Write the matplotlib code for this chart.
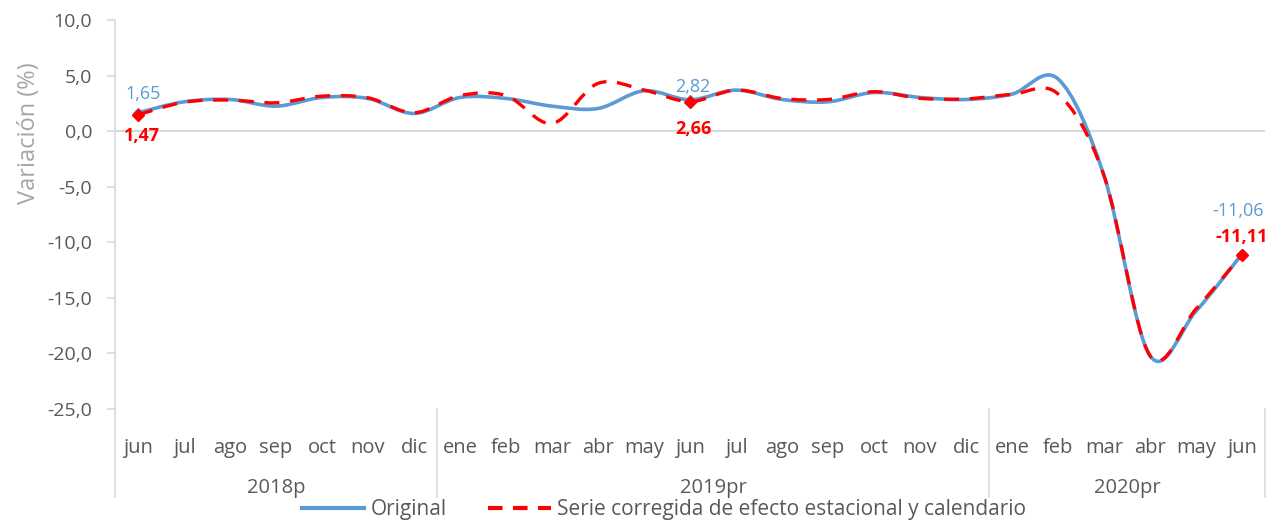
import matplotlib
matplotlib.use("Agg")
import matplotlib.pyplot as plt
from matplotlib.path import Path
from matplotlib.patches import PathPatch
from matplotlib.lines import Line2D
import matplotlib.transforms as mtransforms
import numpy as np

months = ['jun', 'jul', 'ago', 'sep', 'oct', 'nov', 'dic',
          'ene', 'feb', 'mar', 'abr', 'may', 'jun', 'jul', 'ago', 'sep', 'oct', 'nov', 'dic',
          'ene', 'feb', 'mar', 'abr', 'may', 'jun']
years = ['2018p', '2019pr', '2020pr']
year_spans = [(0, 6), (7, 18), (19, 24)]

original = [1.65, 2.64, 2.85, 2.25, 3.03, 2.94, 1.59, 3.03, 2.94, 2.25, 2.04, 3.63, 2.82,
            3.69, 2.85, 2.64, 3.48, 3.03, 2.85, 3.33, 4.70, -4.00, -20.20, -16.20, -11.06]
corrected = [1.47, 2.60, 2.80, 2.55, 3.15, 3.00, 1.65, 3.20, 3.20, 0.69, 4.30, 3.70, 2.66,
             3.70, 2.94, 2.85, 3.55, 2.95, 2.90, 3.30, 3.35, -4.00, -20.20, -16.00, -11.11]
label_idx = [0, 12, 24]

yticks = [10, 5, 0, -5, -10, -15, -20, -25]

BLUE = '#5B9BD5'
RED = '#FF0000'
GRAY = '#595959'
LGRAY = '#D9D9D9'
FONT = 'Open Sans'

plt.rcParams['font.family'] = [FONT, 'DejaVu Sans']


def smooth_path(x, y):
    x = np.asarray(x, float)
    y = np.asarray(y, float)
    n = len(x)
    verts = [(x[0], y[0])]
    codes = [Path.MOVETO]
    for i in range(n - 1):
        i0 = max(i - 1, 0)
        i3 = min(i + 2, n - 1)
        c1 = (x[i] + (x[i + 1] - x[i0]) / 6, y[i] + (y[i + 1] - y[i0]) / 6)
        c2 = (x[i + 1] - (x[i3] - x[i]) / 6, y[i + 1] - (y[i3] - y[i]) / 6)
        verts += [c1, c2, (x[i + 1], y[i + 1])]
        codes += [Path.CURVE4] * 3
    return Path(verts, codes)


fig = plt.figure(figsize=(12.76, 5.23), dpi=100)
ax = fig.add_axes([115 / 1276, 1 - 409 / 523, 1150 / 1276, 389 / 523])

x = np.arange(len(months))
ax.set_xlim(-0.5, len(months) - 0.5)
ax.set_ylim(-25, 10)

# zero line
ax.axhline(0, color=LGRAY, lw=1.5, zorder=1)

# smoothed lines
ax.add_patch(PathPatch(smooth_path(x, original), fill=False, edgecolor=BLUE, lw=2.6,
                       capstyle='round', joinstyle='round', zorder=3))
ax.add_patch(PathPatch(smooth_path(x, corrected), fill=False, edgecolor=RED, lw=2.4,
                       linestyle=(0, (4.5, 3.2)), zorder=4))

# markers
ax.plot([x[i] for i in label_idx], [original[i] for i in label_idx], ls='none',
        marker='D', ms=5, color=BLUE, zorder=3)
ax.plot([x[i] for i in label_idx], [corrected[i] for i in label_idx], ls='none',
        marker='D', ms=6, color=RED, zorder=5)


def fmt(v):
    return f"{v:.2f}".replace('.', ',')


LFS = 13
# data label offsets in pixels (blue, red) per labelled point
blue_off = [(5, 19), (3, 13), (-4, 43)]
red_off = [(4, -21), (3, -27), (0, 18)]
for k, i in enumerate(label_idx):
    ax.annotate(fmt(original[i]), (x[i], original[i]), xytext=blue_off[k],
                textcoords='offset pixels', ha='center', va='center', color=BLUE, fontsize=LFS)
    ax.annotate(fmt(corrected[i]), (x[i], corrected[i]), xytext=red_off[k],
                textcoords='offset pixels', ha='center', va='center', color=RED, fontsize=LFS,
                fontweight='bold')

# y axis
ax.set_yticks(yticks)
ax.set_yticklabels([f"{v:.1f}".replace('.', ',') for v in yticks], fontsize=14, color=GRAY)
ax.tick_params(axis='y', length=5.5, color=LGRAY, width=1.2, pad=11)
ax.set_ylabel('Variación (%)', fontsize=17, color='#A6A6A6', va='center')
ax.yaxis.set_label_coords(-0.0745, 0.71)

# x axis (multi-level categories)
ax.set_xticks(x)
ax.set_xticklabels(months, fontsize=14.5, color=GRAY)
ax.tick_params(axis='x', length=0, pad=21)

for s in ['top', 'right', 'bottom']:
    ax.spines[s].set_visible(False)
ax.spines['left'].set_color(LGRAY)
ax.spines['left'].set_linewidth(1.2)

trans = mtransforms.blended_transform_factory(ax.transData, ax.transAxes)
for (a, b), name in zip(year_spans, years):
    ax.text((a + b) / 2, -0.203, name, transform=trans, ha='center', va='center',
            fontsize=14.5, color=GRAY, clip_on=False)
bounds = [-0.5] + [b + 0.5 for a, b in year_spans]
for bx in bounds:
    ax.add_line(Line2D([bx, bx], [0, -0.226], transform=trans, color=LGRAY, lw=1.2,
                       clip_on=False))

# legend
handles = [Line2D([], [], color=BLUE, lw=3),
           Line2D([], [], color=RED, lw=3, linestyle=(0, (3.5, 2.5)))]
fig.legend(handles, ['Original', 'Serie corregida de efecto estacional y calendario'],
           loc='center', bbox_to_anchor=(664 / 1276, 1 - 510 / 523), ncol=2, frameon=False,
           fontsize=15, handlelength=3.0, columnspacing=2.0, handletextpad=0.3,
           labelcolor=GRAY, borderpad=0)

fig.savefig('out.png', dpi=100)
